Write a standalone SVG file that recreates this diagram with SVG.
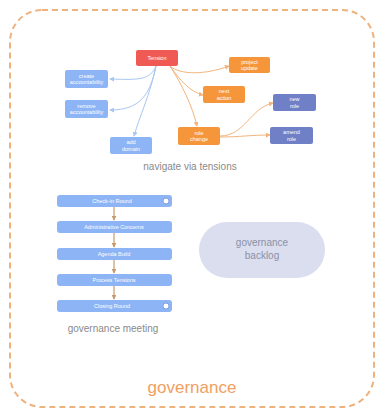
<svg xmlns="http://www.w3.org/2000/svg" width="384" height="418" viewBox="0 0 384 418">
  <defs>
    <style>
      .frame { fill: #ffffff; stroke: #eeb27e; stroke-width: 2; stroke-dasharray: 6 4; }
      .red { fill: #ef5a55; }
      .blue { fill: #8db5f5; }
      .orange { fill: #f5963a; }
      .navy { fill: #6f80c6; }
      .step { fill: #8db5f5; }
      .pill { fill: #dadeee; }
      .t { font-family: "Liberation Sans", Arial, sans-serif; fill: #ffffff; font-size: 5.5px; text-anchor: middle; }
      .cap { font-family: "Liberation Sans", Arial, sans-serif; fill: #8a8a8a; font-size: 10px; text-anchor: middle; }
      .pt { font-family: "Liberation Sans", Arial, sans-serif; fill: #8a90a8; font-size: 10px; text-anchor: middle; }
      .title { font-family: "Liberation Sans", Arial, sans-serif; fill: #f0a060; font-size: 17px; text-anchor: middle; }
      .lb { fill: none; stroke: #a9c6f3; stroke-width: 1; }
      .lo { fill: none; stroke: #f2b47c; stroke-width: 1; }
      .ls { fill: none; stroke: #c79a6a; stroke-width: 1.2; }
      .ico { fill: #ffffff; stroke: #6f8fd6; stroke-width: 0.8; }
    </style>
    <marker id="ab" viewBox="0 0 6 6" refX="5" refY="3" markerWidth="5" markerHeight="5" orient="auto">
      <path d="M0,0 L6,3 L0,6 z" fill="#a9c6f3"/>
    </marker>
    <marker id="ao" viewBox="0 0 6 6" refX="5" refY="3" markerWidth="5" markerHeight="5" orient="auto">
      <path d="M0,0 L6,3 L0,6 z" fill="#f2b47c"/>
    </marker>
    <marker id="as" viewBox="0 0 6 6" refX="5" refY="3" markerWidth="4" markerHeight="4" orient="auto">
      <path d="M0,0 L6,3 L0,6 z" fill="#c79a6a"/>
    </marker>
  </defs>

  <!-- outer boundary -->
  <rect class="frame" x="10" y="10" width="364" height="397" rx="32"/>
  <text class="title" x="192" y="393">governance</text>

  <!-- connectors -->
  <g id="connectors">
    <path class="lb" d="M156,66 C150,80 140,80 110,79" marker-end="url(#ab)"/>
    <path class="lb" d="M156,66 C150,95 140,110 110,110" marker-end="url(#ab)"/>
    <path class="lb" d="M156,66 C150,95 140,115 134,136" marker-end="url(#ab)"/>
    <path class="lo" d="M170,66 C180,75 205,75 229,66" marker-end="url(#ao)"/>
    <path class="lo" d="M170,66 C180,80 190,92 203,95" marker-end="url(#ao)"/>
    <path class="lo" d="M170,66 C182,85 192,105 197,126" marker-end="url(#ao)"/>
    <path class="lo" d="M220,136 C245,136 250,108 273,103" marker-end="url(#ao)"/>
    <path class="lo" d="M220,137 C240,137 250,135 270,135" marker-end="url(#ao)"/>
    <path class="ls" d="M114,207 L114,220" marker-end="url(#as)"/>
    <path class="ls" d="M114,233 L114,247" marker-end="url(#as)"/>
    <path class="ls" d="M114,260 L114,273" marker-end="url(#as)"/>
    <path class="ls" d="M114,286 L114,299" marker-end="url(#as)"/>
  </g>

  <!-- tension map -->
  <g id="tension">
    <rect class="red" x="136" y="50" width="42" height="16" rx="2"/>
    <text class="t" x="157" y="60">Tension</text>
  </g>
  <g id="blue1">
    <rect class="blue" x="65" y="70" width="43" height="18" rx="2"/>
    <text class="t" x="86.5" y="77.5">create</text>
    <text class="t" x="86.5" y="84">accountability</text>
  </g>
  <g id="blue2">
    <rect class="blue" x="65" y="100" width="43" height="18" rx="2"/>
    <text class="t" x="86.5" y="107.5">remove</text>
    <text class="t" x="86.5" y="114">accountability</text>
  </g>
  <g id="blue3">
    <rect class="blue" x="110" y="137" width="42" height="17" rx="2"/>
    <text class="t" x="131" y="144">add</text>
    <text class="t" x="131" y="150.5">domain</text>
  </g>
  <g id="orange1">
    <rect class="orange" x="229" y="57" width="41" height="16" rx="2"/>
    <text class="t" x="249.5" y="63.5">project</text>
    <text class="t" x="249.5" y="70">update</text>
  </g>
  <g id="orange2">
    <rect class="orange" x="203" y="86" width="42" height="17" rx="2"/>
    <text class="t" x="224" y="93">next</text>
    <text class="t" x="224" y="99.5">action</text>
  </g>
  <g id="orange3">
    <rect class="orange" x="178" y="127" width="42" height="18" rx="2"/>
    <text class="t" x="199" y="134.5">role</text>
    <text class="t" x="199" y="141">change</text>
  </g>
  <g id="navy1">
    <rect class="navy" x="273" y="94" width="43" height="17" rx="2"/>
    <text class="t" x="294.5" y="101">new</text>
    <text class="t" x="294.5" y="107.5">role</text>
  </g>
  <g id="navy2">
    <rect class="navy" x="270" y="127" width="43" height="17" rx="2"/>
    <text class="t" x="291.5" y="134">amend</text>
    <text class="t" x="291.5" y="140.5">role</text>
  </g>
  <text class="cap" x="190" y="170">navigate via tensions</text>

  <!-- meeting steps -->
  <g id="step1">
    <rect class="step" x="57" y="195" width="115" height="12" rx="3"/>
    <text class="t" x="112" y="203">Check-in Round</text>
    <circle class="ico" cx="166" cy="201" r="3"/>
  </g>
  <g id="step2">
    <rect class="step" x="57" y="221" width="115" height="12" rx="3"/>
    <text class="t" x="114" y="229">Administrative Concerns</text>
  </g>
  <g id="step3">
    <rect class="step" x="57" y="248" width="115" height="12" rx="3"/>
    <text class="t" x="114" y="256">Agenda Build</text>
  </g>
  <g id="step4">
    <rect class="step" x="57" y="274" width="115" height="12" rx="3"/>
    <text class="t" x="114" y="282">Process Tensions</text>
  </g>
  <g id="step5">
    <rect class="step" x="57" y="300" width="115" height="12" rx="3"/>
    <text class="t" x="112" y="308">Closing Round</text>
    <circle class="ico" cx="166" cy="306" r="3"/>
  </g>
  <text class="cap" x="113" y="332">governance meeting</text>

  <!-- backlog -->
  <g id="backlog">
    <rect class="pill" x="199" y="222" width="126" height="56" rx="28"/>
    <text class="pt" x="262" y="246">governance</text>
    <text class="pt" x="262" y="259">backlog</text>
  </g>
</svg>
